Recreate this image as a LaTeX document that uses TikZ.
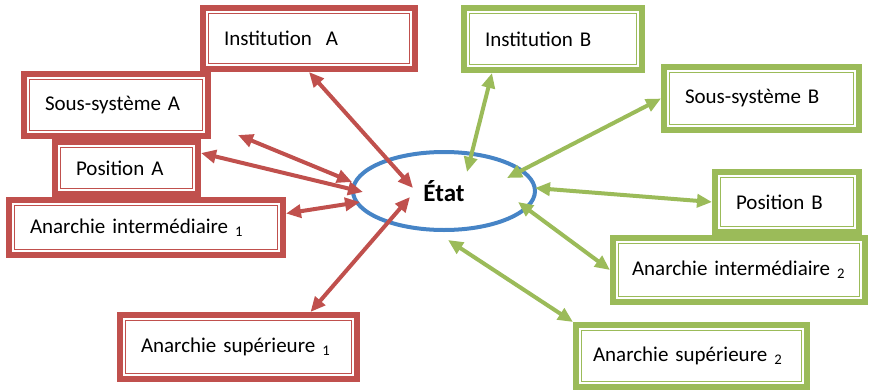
\documentclass[tikz,border=0pt]{standalone}
\usepackage{fontspec}
\setmainfont{Carlito}
\usetikzlibrary{shapes.geometric,arrows.meta}
\definecolor{redA}{RGB}{192,80,77}
\definecolor{greenB}{RGB}{155,187,89}
\definecolor{blueE}{RGB}{70,132,198}
\tikzset{
  box/.style={draw=#1, line width=6pt, rectangle, inner xsep=21pt, inner ysep=0pt,
    align=left, font=\fontsize{21}{25}\selectfont,
    path picture={\draw[#1, line width=1.7pt]
      ([shift={(5.5pt,-5.5pt)}]path picture bounding box.north west) rectangle
      ([shift={(-5.5pt,5.5pt)}]path picture bounding box.south east);}},
  rbox/.style={box=redA},
  gbox/.style={box=greenB},
  link/.style={line width=4pt, {Triangle[length=15pt,width=13pt]}-{Triangle[length=15pt,width=13pt]}}
}
\begin{document}
\begin{tikzpicture}[x=1pt,y=-1pt]
  \useasboundingbox (0,0) rectangle (870,391);
  % centre
  \node[ellipse, draw=blueE, line width=4pt, minimum width=182pt, minimum height=78pt,
    font=\bfseries\fontsize{25}{30}\selectfont] (etat) at (444,191) {État};
  % left side
  \node[rbox, text width=170pt, minimum height=61pt] (instA) at (309,38.5) {Institution\ \ A};
  \node[rbox, text width=142pt, minimum height=62pt] (ssA) at (116,105) {Sous-système A};
  \node[rbox, text width=101pt, minimum height=52pt] (posA) at (126.5,168) {Position A};
  \node[rbox, text width=232pt, minimum height=55pt] (int1) at (146,227.5) {Anarchie intermédiaire \textsubscript{1}};
  \node[rbox, text width=195pt, minimum height=64pt] (sup1) at (238.5,347) {Anarchie supérieure \textsubscript{1}};
  % right side
  \node[gbox, text width=136pt, minimum height=62pt] (instB) at (553,39) {Institution B};
  \node[gbox, text width=153pt, minimum height=63pt] (ssB) at (761.5,98.5) {Sous-système B};
  \node[gbox, text width=102pt, minimum height=60pt] (posB) at (787,202) {Position B};
  \node[gbox, inner xsep=19pt, text width=214pt, minimum height=64pt] (int2) at (739,270) {Anarchie intermédiaire \textsubscript{2}};
  \node[gbox, inner xsep=17pt, text width=197pt, minimum height=62pt] (sup2) at (691.5,356) {Anarchie supérieure \textsubscript{2}};
  % arrow ends at the ellipse
  \coordinate (eInstA) at (413,188);
  \coordinate (loose) at (238,135);
  \coordinate (eLoose) at (352,182);
  \coordinate (ePosA) at (363,192);
  \coordinate (eInt1) at (360,202);
  \coordinate (eSup1) at (410,197);
  \coordinate (eInstB) at (467,172);
  \coordinate (eSsB) at (507,178);
  \coordinate (ePosB) at (535,188);
  \coordinate (eInt2) at (518,202);
  \coordinate (eSup2) at (448,240);
  \begin{scope}[link, draw=redA, fill=redA]
    \draw (instA.south) to (eInstA);
    \draw (loose) to (eLoose);
    \draw ([yshift=15pt]posA.east) to (ePosA);
    \draw ([yshift=14pt]int1.east) to (eInt1);
    \draw ([xshift=72pt]sup1.north) to (eSup1);
  \end{scope}
  \begin{scope}[link, draw=greenB, fill=greenB]
    \draw ([xshift=-61pt]instB.south) to (eInstB);
    \draw (ssB.west) to (eSsB);
    \draw (ePosB) to (posB.west);
    \draw (eInt2) to (int2.west);
    \draw (eSup2) to (sup2.north west);
  \end{scope}
\end{tikzpicture}
\end{document}
